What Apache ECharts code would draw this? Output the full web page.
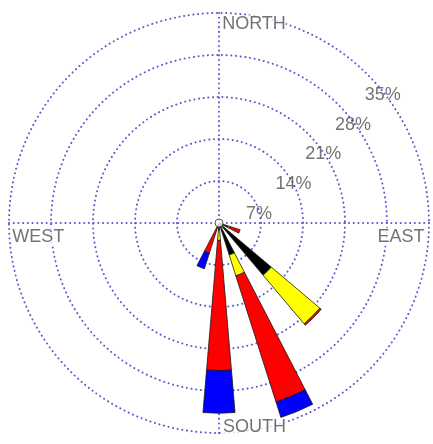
<!DOCTYPE html>
<html>
<head>
<meta charset="utf-8">
<script src="https://cdn.jsdelivr.net/npm/echarts@6/dist/echarts.min.js"></script>
<style>
  html, body { margin: 0; padding: 0; background: #fff; }
  #chart { width: 433px; height: 444px; }
</style>
</head>
<body>
<div id="chart"></div>
<script>
// Sixteen compass sectors, clockwise from north
const directions = ['N', 'NNE', 'NE', 'ENE', 'E', 'ESE', 'SE', 'SSE',
                    'S', 'SSW', 'SW', 'WSW', 'W', 'WNW', 'NW', 'NNW'];

// Frequency (%) per sector for each speed class, stacked outward
const classBlack  = [null, null, null, null, null, 1.6, 11.4, 5.6,  1.2,  0.6, null, null, null, null, null, null];
const classYellow = [null, null, null, null, null, 0.3, 10.6, 3.65, 1.7,  null, null, null, null, null, null, null];
const classRed    = [null, null, null, null, null, 1.8, 0.3,  22.05, 21.7, 4.7, null, null, null, null, null, null];
const classBlue   = [null, null, null, null, null, null, null, 2.7, 7.1,  2.7, null, null, null, null, null, null];

// Ring values and compass captions
const ringTicks = [7, 14, 21, 28, 35];
const compassNames = ['NORTH', 'EAST', 'SOUTH', 'WEST'];
const compassSectors = ['N', 'E', 'S', 'W'];

const CENTER = [219, 223];
const RADIUS = 210;
const MAX_PCT = 35;
const FONT = 'Liberation Sans, Arial, sans-serif';
const TEXT_COLOR = '#505050';

const dotted = { color: '#5a5ad0', width: 2, type: [0.1, 4.6], cap: 'round' };

function windBar(name, values, color) {
  return {
    type: 'bar',
    name: name,
    coordinateSystem: 'polar',
    polarIndex: 1,
    stack: 'speed',
    barWidth: '43%',
    data: values,
    itemStyle: { color: color, borderColor: '#1a1a1a', borderWidth: 0.8 },
    silent: true,
    z: 3
  };
}

// Captions placed at the outer ring of each cardinal sector
const compassLabelStyle = {
  NORTH: { position: 'right', offset: [2.7, 11.2] },
  EAST:  { position: 'left',  offset: [-4, 13.7] },
  SOUTH: { position: 'right', offset: [3.5, -5.5] },
  WEST:  { position: 'right', offset: [2.7, 13.7] }
};

const compassData = compassNames.map((txt, i) => ({
  value: [MAX_PCT, directions.indexOf(compassSectors[i])],
  caption: txt,
  label: compassLabelStyle[txt]
}));

const chart = echarts.init(document.getElementById('chart'), null, { renderer: 'canvas' });

chart.setOption({
  animation: false,
  backgroundColor: '#fff',
  polar: [
    { center: CENTER, radius: RADIUS },
    { center: CENTER, radius: RADIUS }
  ],
  angleAxis: [
    {
      polarIndex: 0, type: 'value', min: 0, max: 360, interval: 90, startAngle: 90,
      axisLine: { show: false }, axisTick: { show: false }, axisLabel: { show: false },
      splitLine: { show: true, lineStyle: dotted }
    },
    {
      polarIndex: 1, type: 'category', data: directions, startAngle: 90 + 11.25,
      axisLine: { show: false }, axisTick: { show: false }, axisLabel: { show: false },
      splitLine: { show: false }
    }
  ],
  radiusAxis: [
    {
      polarIndex: 0, type: 'value', min: 0, max: MAX_PCT, interval: 7,
      axisLine: { show: false }, axisTick: { show: false }, axisLabel: { show: false },
      splitLine: { show: true, lineStyle: dotted }
    },
    {
      polarIndex: 1, type: 'value', min: 0, max: MAX_PCT, interval: 7,
      axisLine: { show: false }, axisTick: { show: false }, axisLabel: { show: false },
      splitLine: { show: false }
    }
  ],
  series: [
    windBar('black', classBlack, '#000000'),
    windBar('yellow', classYellow, '#ffff00'),
    windBar('red', classRed, '#ff0000'),
    windBar('blue', classBlue, '#0000ff'),
    {
      // ring percentages along the north-east diagonal
      type: 'scatter',
      coordinateSystem: 'polar',
      polarIndex: 1,
      symbolSize: 1,
      itemStyle: { color: 'transparent' },
      data: ringTicks.map(v => [v, directions.indexOf('NE')]),
      label: {
        show: true, position: 'right', distance: 0, offset: [-3.3, 20.5],
        formatter: p => p.value[0] + '%',
        color: TEXT_COLOR, fontSize: 18, fontFamily: FONT
      },
      silent: true,
      z: 5
    },
    {
      // compass captions
      type: 'scatter',
      coordinateSystem: 'polar',
      polarIndex: 1,
      symbolSize: 1,
      itemStyle: { color: 'transparent' },
      data: compassData,
      label: {
        show: true, distance: 0,
        formatter: p => p.data.caption,
        color: TEXT_COLOR, fontSize: 18, fontFamily: FONT,
        backgroundColor: '#fff'
      },
      silent: true,
      z: 6
    },
    {
      // hub at the centre
      type: 'scatter',
      coordinateSystem: 'polar',
      polarIndex: 1,
      symbolSize: 8,
      data: [[0, 0]],
      itemStyle: { color: '#fff', borderColor: '#333', borderWidth: 1 },
      silent: true,
      z: 7
    }
  ]
});
</script>
</body>
</html>
